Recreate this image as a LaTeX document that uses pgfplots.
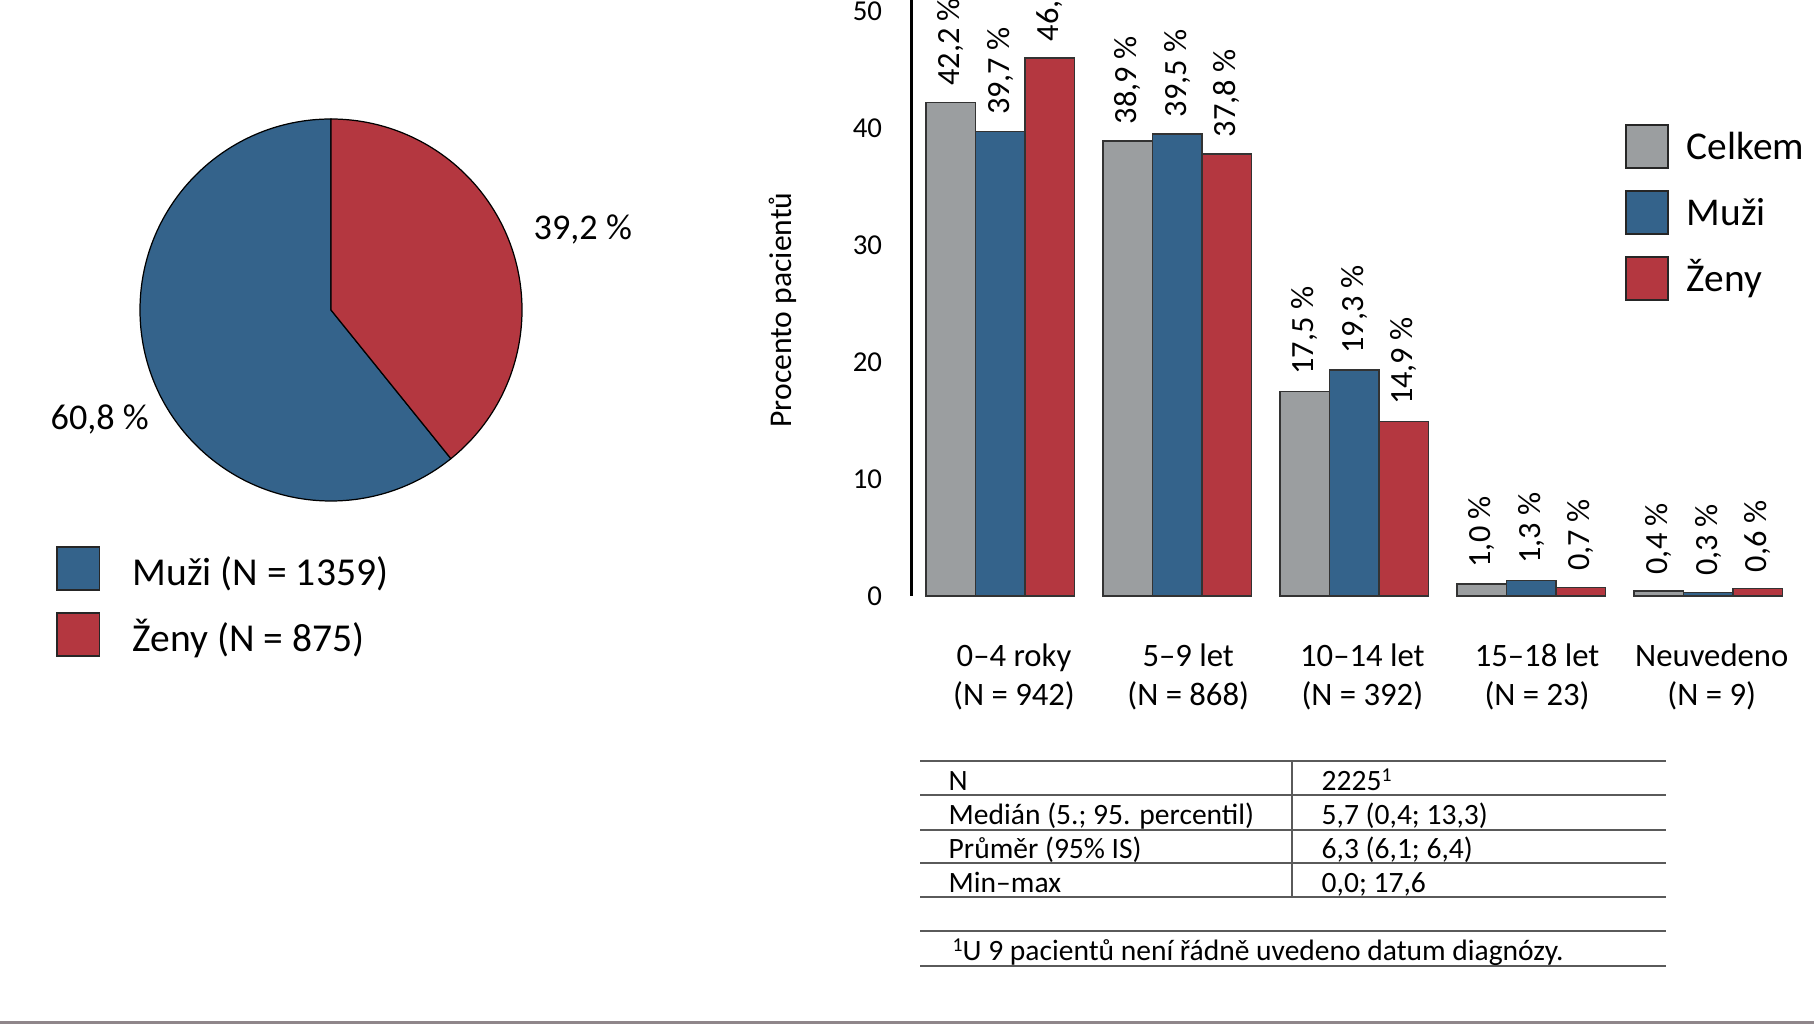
\documentclass[border=0pt]{standalone}
\usepackage{fontspec}
\setmainfont{Carlito}
\usepackage{pgfplots}
\pgfplotsset{compat=1.18}
\definecolor{cgray}{RGB}{155,158,160}
\definecolor{cblue}{RGB}{52,99,139}
\definecolor{cred}{RGB}{180,55,64}
\definecolor{cline}{RGB}{143,134,138}
\definecolor{tline}{RGB}{90,90,90}
\newcommand{\supone}{\raisebox{0.62ex}{\fontsize{5.6}{6}\selectfont 1}}
\begin{document}
\begin{tikzpicture}
\path[use as bounding box] (0,0) rectangle (18.14,10.25);
% ---------- pie ----------
\pgfmathsetmacro\aM{60.8*3.6}
\filldraw[fill=cblue, draw=black, line width=0.35pt] (3.31,7.15) -- ++(90:1.91) arc[start angle=90, end angle=90+\aM, radius=1.91] -- cycle;
\filldraw[fill=cred, draw=black, line width=0.35pt] (3.31,7.15) -- ++(90+\aM:1.91) arc[start angle=90+\aM, end angle=450, radius=1.91] -- cycle;
% ---------- bar chart ----------
\begin{axis}[
  at={(9.117cm,4.292cm)}, anchor=south west,
  scale only axis, width=8.85cm, height=5.962cm,
  xmin=-0.5, xmax=4.5, ymin=0, ymax=51,
  ybar=0pt, bar width=0.495cm,
  axis y line*=left, axis x line*=bottom,
  axis line style={-},
  x axis line style={draw=none},
  y axis line style={line width=0.7pt},
  ytick={0,10,20,30,40,50}, xtick={0.078,1.062,2.046,3.033,4.02},
  xticklabels={{0–4 roky\\(N = 942)},{5–9 let\\(N = 868)},{10–14 let\\(N = 392)},{15–18 let\\(N = 23)},{Neuvedeno\\(N = 9)}},
  major tick length=0pt,
  tick style={draw=none},
  /pgf/number format/assume math mode=true,
  yticklabel style={font=\fontsize{8.2}{9.8}\selectfont, inner sep=0pt, xshift=-2.9mm},
  xticklabel style={align=center, font=\fontsize{9.3}{11.1}\selectfont, inner sep=0pt, anchor=north, yshift=-4.75mm},
  nodes near coords={\pgfmathprintnumber[fixed,fixed zerofill,precision=1,use comma]{\pgfplotspointmeta}~\%},
  every node near coord/.append style={font=\fontsize{9.2}{11}\selectfont, rotate=90, anchor=west, inner xsep=1.6mm, inner ysep=0pt, text=black},
  clip=false,
]
\addplot[fill=cgray, draw=black!80, line width=0.4pt] coordinates {(0,42.2) (1,38.9) (2,17.5) (3,1.0) (4,0.4)};
\addplot[fill=cblue, draw=black!80, line width=0.4pt] coordinates {(0,39.7) (1,39.5) (2,19.3) (3,1.3) (4,0.3)};
\addplot[fill=cred, draw=black!80, line width=0.4pt] coordinates {(0,46.0) (1,37.8) (2,14.9) (3,0.7) (4,0.6)};
\end{axis}
\begin{scope}[x=0.1mm, y=-0.1mm, shift={(0,10.25cm)}]
% y label
\node[rotate=90, font=\fontsize{9}{11}\selectfont] at (783,310) {Procento pacientů};
% pie labels
\node[anchor=base west, inner sep=0pt, font=\fontsize{10.3}{12}\selectfont] at (533,240) {39,2 \%};
\node[anchor=base west, inner sep=0pt, font=\fontsize{10.3}{12}\selectfont] at (50,430) {60,8 \%};
% pie legend
\filldraw[fill=cblue, draw=black!85, line width=0.55pt] (56.7,547) rectangle (99.5,590);
\filldraw[fill=cred, draw=black!85, line width=0.55pt] (56.7,613) rectangle (99.5,656);
\node[anchor=base west, inner sep=0pt, font=\fontsize{11.25}{13}\selectfont] at (132,585) {Muži (N = 1359)};
\node[anchor=base west, inner sep=0pt, font=\fontsize{11.25}{13}\selectfont] at (132,651) {Ženy (N = 875)};
% bar legend
\filldraw[fill=cgray, draw=black!85, line width=0.55pt] (1625.6,125) rectangle (1668.4,168);
\filldraw[fill=cblue, draw=black!85, line width=0.55pt] (1625.6,191) rectangle (1668.4,234);
\filldraw[fill=cred, draw=black!85, line width=0.55pt] (1625.6,257) rectangle (1668.4,300);
\node[anchor=base west, inner sep=0pt, font=\fontsize{11.2}{13}\selectfont] at (1686,160) {Celkem};
\node[anchor=base west, inner sep=0pt, font=\fontsize{11.2}{13}\selectfont] at (1686,226) {Muži};
\node[anchor=base west, inner sep=0pt, font=\fontsize{11.2}{13}\selectfont] at (1686,292) {Ženy};
% table
\foreach \yy in {761.3,794.9,829.6,863.1,896.7,931.4,966.1}
  \draw[tline, line width=0.6pt] (920,\yy) -- (1666,\yy);
\draw[tline, line width=0.6pt] (1292,761.3) -- (1292,896.7);
\begin{scope}[every node/.style={anchor=base west, inner sep=0pt, font=\fontsize{8.4}{10}\selectfont}]
\node at (948,790) {N};
\node at (948,824) {Medián (5.; 95. percentil)};
\node at (948,858) {Průměr (95\% IS)};
\node at (948,892) {Min–max};
\node at (1321,790) {2225\supone};
\node at (1321,824) {5,7 (0,4; 13,3)};
\node at (1321,858) {6,3 (6,1; 6,4)};
\node at (1321,892) {0,0; 17,6};
\node at (952,960) {\supone U 9 pacientů není řádně uvedeno datum diagnózy.};
\end{scope}
% bottom line
\draw[cline, line width=0.7pt] (0,1022.5) -- (1814,1022.5);
\end{scope}
\end{tikzpicture}
\end{document}
